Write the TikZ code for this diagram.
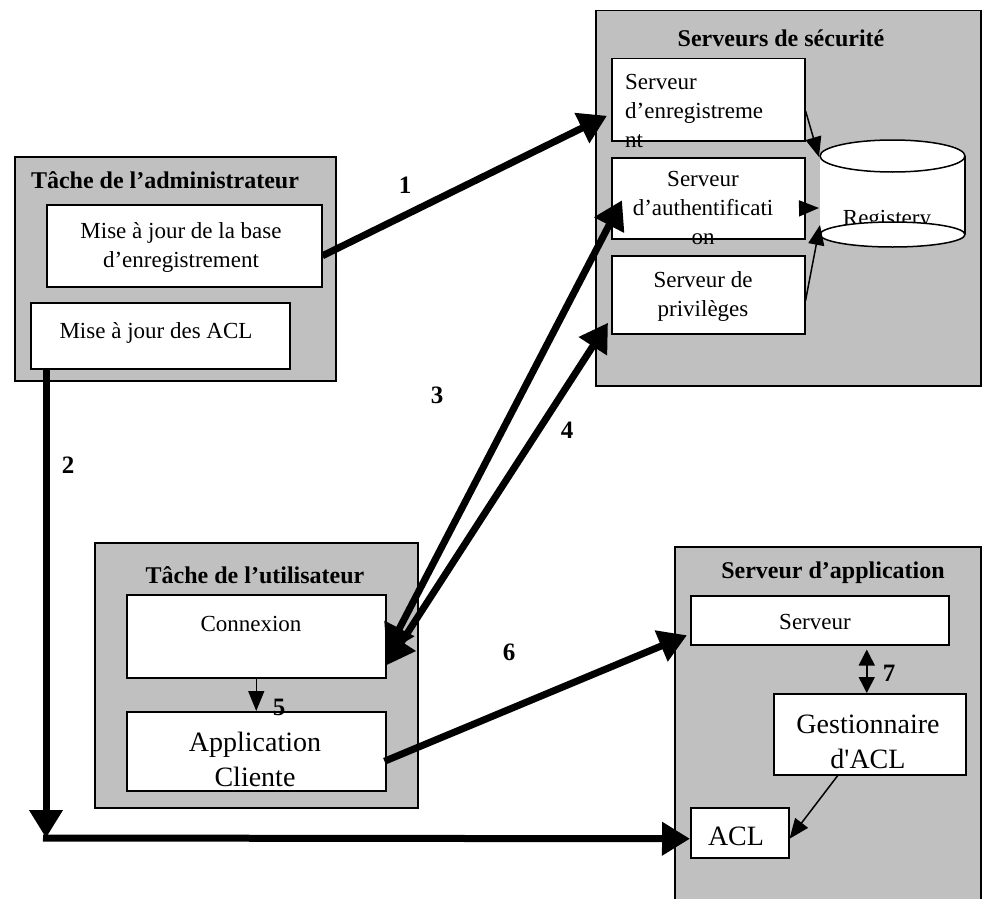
\documentclass[tikz,border=0pt]{standalone}
\usepackage{fontspec}
\setmainfont{Liberation Serif}[Ligatures=TeXOff]
\usetikzlibrary{arrows.meta}
\definecolor{boxgrey}{HTML}{C0C0C0}
\tikzset{
  bigbox/.style={draw, fill=boxgrey, line width=1.5pt, anchor=north west, inner sep=0pt},
  inbox/.style={draw, fill=white, line width=1.5pt, anchor=north west, inner sep=0pt},
  txt/.style={font=\fontsize{23}{29}\selectfont, align=center, inner sep=0pt},
  bigtxt/.style={font=\fontsize{28}{35}\selectfont, align=center, inner sep=0pt},
  ttl/.style={font=\fontsize{24}{29}\selectfont\bfseries, inner sep=0pt},
  num/.style={font=\fontsize{25}{30}\selectfont\bfseries, inner sep=0pt},
  thickarrow/.style={line width=7pt, -{Triangle[length=28pt,width=32pt]}},
  thickboth/.style={line width=7pt, {Triangle[length=28pt,width=32pt]}-{Triangle[length=28pt,width=32pt]}},
  thinarrow/.style={line width=1.5pt, -{Triangle[length=20pt,width=16pt]}},
  thinboth/.style={line width=1.5pt, {Triangle[length=16pt,width=16pt]}-{Triangle[length=16pt,width=16pt]}},
}
\begin{document}
\begin{tikzpicture}[x=1pt, y=-1pt]
\useasboundingbox (0,0) rectangle (982,899);

% ---------- Administrator task ----------
\node[bigbox, minimum width=321pt, minimum height=224pt] (adm) at (14,156) {};
\node[ttl] (admT) at (165,180) {Tâche de l’administrateur};
\node[inbox, minimum width=275pt, minimum height=82pt] (adm1) at (46,204) {};
\node[txt] (adm1T) at (181,247) {Mise à jour de la base\\d’enregistrement};
\node[inbox, minimum width=259pt, minimum height=66pt] (adm2) at (30,302) {};
\node[txt] (adm2T) at (156,333) {Mise à jour des ACL};

% ---------- Security servers ----------
\node[bigbox, minimum width=385pt, minimum height=375pt] (sec) at (595,10) {};
\node[ttl] (secT) at (781,38) {Serveurs de sécurité};
\node[inbox, minimum width=193pt, minimum height=82pt] (enr) at (611,58) {};
\node[txt, align=left, anchor=north west] (enrT) at (625,74) {Serveur\\d’enregistreme\\nt};
\node[inbox, minimum width=193pt, minimum height=81pt] (auth) at (611,157) {};
\node[txt, anchor=north] (authT) at (703,171) {Serveur\\d’authentificati\\on};
\node[inbox, minimum width=193pt, minimum height=78pt] (priv) at (611,255) {};
\node[txt] (privT) at (703,296) {Serveur de\\privilèges};

% cylinder (Registery)
\fill[white] (820,156) rectangle (965,234);
\draw[line width=1.5pt] (965,156) -- (965,234);
\draw[line width=1.5pt, fill=white] (892.5,156) ellipse (72.5 and 16);
\node[txt, anchor=base] (regT) at (887,225) {Registery};
\draw[line width=1.5pt, fill=white] (892.5,234.5) ellipse (72.5 and 12.5);
\coordinate (cylTL) at (819,157);
\coordinate (cylML) at (819,208);
\coordinate (cylBL) at (820,225);

% ---------- User task ----------
\node[bigbox, minimum width=323pt, minimum height=265pt] (usr) at (94,542) {};
\node[ttl] (usrT) at (255,575) {Tâche de l’utilisateur};
\node[inbox, minimum width=259pt, minimum height=83pt] (conn) at (126,594) {};
\node[txt] (connT) at (251,624) {Connexion};
\node[inbox, minimum width=259pt, minimum height=79pt] (app) at (126,711) {};
\node[bigtxt] (appT) at (255,759) {Application\\Cliente};

% ---------- Application server ----------
\node[bigbox, minimum width=306pt, minimum height=365pt] (asrv) at (674,546) {};
\node[ttl] (asrvT) at (833,573) {Serveur d’application};
\node[inbox, minimum width=258pt, minimum height=49pt] (srv) at (690,595) {};
\node[txt] (srvT) at (815,622) {Serveur};
\node[inbox, minimum width=192pt, minimum height=81pt] (gest) at (773,693) {};
\node[bigtxt] (gestT) at (868,742) {Gestionnaire\\d'ACL};
\node[inbox, minimum width=98pt, minimum height=50pt] (acl) at (690,807) {};
\node[bigtxt] (aclT) at (736,836) {ACL};

% ---------- thin connectors ----------
\draw[thinarrow] ([yshift=-11pt]enr.east) -- (cylTL);
\draw[thinarrow] ([yshift=-10pt]auth.east) -- (cylML);
\draw[thinarrow] ([yshift=-6pt]priv.east) -- (cylBL);
\draw[thinarrow] (conn.south) -- (app.north);
\draw[thinboth] ([xshift=-3pt,yshift=-4pt]srv.south -| gest.north) -- ([xshift=-3pt]gest.north);
\draw[thinarrow] ([xshift=-32pt]gest.south) -- ([yshift=-6pt]acl.east);

% ---------- thick connectors ----------
\draw[thickarrow] ([yshift=-10pt]adm1.east) -- ([xshift=-4pt,yshift=-16pt]enr.west);
\coordinate (corner) at (46,838);
\draw[thickarrow] ([xshift=16pt]adm2.south west) -- (corner);
\draw[thickarrow] ([xshift=-3pt]corner) -- ([yshift=-6pt]acl.west);
\draw[thickboth] ([xshift=11pt,yshift=-2pt]auth.west) -- ([yshift=-17pt]conn.east);
\draw[thickboth] ([xshift=-3pt,yshift=-28pt]priv.west) -- ([yshift=-29pt]conn.east);
\draw[thickarrow] ([xshift=-2pt,yshift=-10pt]app.east) -- ([xshift=-3pt,yshift=-15pt]srv.west);

% ---------- numbers ----------
\node[num] (n1) at (405,185) {1};
\node[num] (n2) at (68,465) {2};
\node[num] (n3) at (437,395) {3};
\node[num] (n4) at (567,430) {4};
\node[num] (n5) at (279,707) {5};
\node[num] (n6) at (509,652) {6};
\node[num] (n7) at (889,673) {7};
\end{tikzpicture}
\end{document}
